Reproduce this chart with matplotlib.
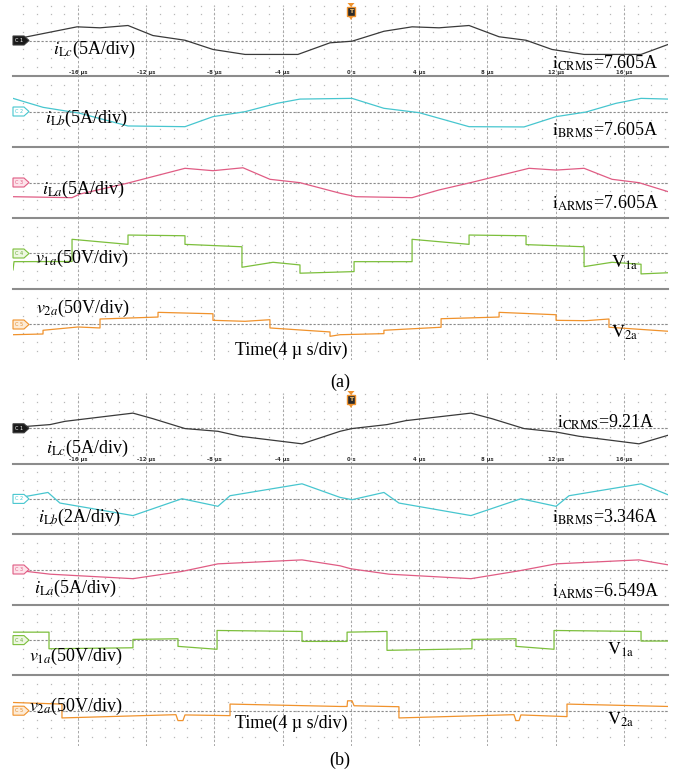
import matplotlib
matplotlib.use("Agg")
import numpy as np
import matplotlib.pyplot as plt
from matplotlib.patches import Polygon, Rectangle

plt.rcParams['font.family'] = ['Liberation Serif', 'DejaVu Serif']
plt.rcParams['mathtext.fontset'] = 'stix'

W, H = 679, 774
fig = plt.figure(figsize=(W / 100, H / 100), dpi=100)

# time window of the scope screen (us) and its labels
T_MIN, T_MAX = -19.81, 18.58
time_ticks = [-16, -12, -8, -4, 0, 4, 8, 12, 16]
time_labels = ['-16 µs', '-12 µs', '-8 µs', '-4 µs', '0 s', '4 µs', '8 µs', '12 µs', '16 µs']

# ---- (a) traces: time in us, value in screen divisions from channel offset ----
a_ilc_t = [-19.81, -18.99, -16.06, -14.71, -13.07, -11.61, -9.73, -8.09, -6.21, -3.11, -1.23,
           0.06, 1.93, 3.58, 5.16, 6.92, 8.68, 10.26, 11.78, 13.66, 17.0, 18.58]
a_ilc_v = [0.0, 0.42, 1.54, 1.43, 1.69, 0.56, 0.03, -1.01, -1.57, -1.57, -0.26,
           -0.08, 1.04, 1.54, 1.43, 1.69, 0.42, 0.03, -1.01, -1.57, -1.57, -0.45]

a_ilb_t = [-19.81, -18.05, -15.89, -13.07, -9.73, -8.09, -6.21, -4.34, -2.99, 0.06, 1.93,
           3.99, 6.92, 10.14, 12.02, 13.77, 15.53, 17.0, 18.58]
a_ilb_v = [1.48, 0.47, -0.2, -1.63, -1.71, -0.58, -0.02, 0.92, 1.40, 1.48, 0.36,
           -0.13, -1.71, -1.74, -0.58, -0.06, 0.92, 1.48, 1.40]

a_ila_t = [-19.81, -16.35, -15.89, -13.13, -9.73, -8.09, -6.33, -4.75, -2.99, -0.64, 0.29,
           3.58, 5.16, 7.09, 10.43, 12.02, 13.66, 15.30, 16.88, 18.58]
a_ila_v = [-1.6, -1.71, -1.3, -0.09, 1.6, 1.33, 1.66, 0.36, -0.02, -1.21, -1.6,
           -1.71, -0.84, 0.02, 1.6, 1.40, 1.6, 0.36, -0.02, -1.03]

a_v1a_t = [-19.81, -19.75, -16.35, -16.35, -13.07, -13.07, -9.73, -9.73, -6.39, -6.39, -4.57,
           -2.99, -2.99, 0.18, 0.18, 3.58, 3.58, 6.92, 6.92, 10.26, 10.26, 13.66, 13.66,
           15.30, 17.0, 17.0, 18.58]
a_v1a_v = [-1.85, -0.92, -0.9, 1.6, 1.03, 2.08, 2.0, 1.03, 0.76, -1.55, -0.99,
           -1.29, -2.22, -2.04, -0.92, -0.92, 1.6, 1.03, 2.08, 2.0, 1.0, 0.76, -1.48,
           -0.99, -1.21, -2.3, -2.17]

a_v2a_t = [-19.81, -18.05, -18.05, -16.0, -14.71, -14.71, -11.31, -11.31, -8.09, -8.09, -6.21,
           -4.75, -4.75, -1.23, -1.23, -0.64, 1.93, 1.93, 5.28, 5.28, 8.68, 8.68, 12.02,
           12.02, 13.77, 15.12, 15.12, 18.58]
a_v2a_v = [-1.15, -1.07, -0.65, -0.28, -0.39, 0.62, 0.84, 1.37, 1.21, 0.47, 0.36,
           0.54, -0.39, -0.84, -1.33, -1.15, -1.03, -0.65, -0.31, 0.65, 0.84, 1.37, 1.1,
           0.47, 0.43, 0.62, -0.31, -0.76]

# ---- (b) traces ----
b_ilc_t = [-19.81, -18.99, -17.64, -16.76, -12.78, -11.61, -9.73, -7.80, -6.51, -2.87, -0.64,
           0.06, 2.11, 3.22, 7.03, 8.26, 10.14, 12.02, 13.36, 16.88, 18.58]
b_ilc_v = [0.0, 0.22, 0.42, 0.79, 1.72, 1.09, -0.03, -0.34, -0.9, -1.76, -0.34,
           -0.03, 0.42, 0.87, 1.72, 1.09, -0.03, -0.42, -0.9, -1.76, -0.79]

b_ilb_t = [-19.81, -17.76, -17.06, -12.78, -9.91, -7.80, -7.09, -2.87, -0.64, 0.06, 1.93,
           2.81, 7.03, 9.96, 12.02, 12.78, 17.0, 18.58]
b_ilb_v = [0.02, 0.73, -0.47, -1.89, 0.02, -0.84, 0.36, 1.71, 0.17, -0.09, 0.73,
           -0.47, -1.89, 0.02, -0.84, 0.36, 1.71, 0.47]

b_ila_t = [-19.81, -17.64, -12.78, -9.91, -7.80, -2.87, -0.64, 0.0, 2.23, 7.03, 9.85,
           12.02, 16.88, 18.58]
b_ila_v = [-0.03, -0.53, -1.04, -0.22, 0.64, 1.09, 0.42, 0.08, -0.53, -1.04, -0.15,
           0.64, 1.09, 0.53]

b_v1a_t = [-19.81, -17.70, -17.70, -12.78, -12.78, -10.14, -10.14, -7.85, -7.85, -2.87, -2.87,
           -0.23, -0.23, 2.11, 2.11, 7.09, 7.09, 9.67, 9.67, 11.9, 11.9, 17.0, 17.0, 18.58]
b_v1a_v = [0.9, 0.9, -0.98, -0.87, 0.08, 0.15, -0.71, -1.04, 1.09, 0.98, -0.15,
           -0.15, 0.9, 0.98, -1.16, -0.98, 0.08, 0.15, -0.71, -1.04, 1.09, 0.98, -0.11, -0.11]

b_v2a_t = [-19.81, -16.94, -16.94, -10.26, -10.14, -9.85, -9.73, -7.09, -7.09, -0.64, -0.23,
           -0.2, 0.06, 0.18, 2.81, 2.81, 9.55, 9.67, 9.85, 9.96, 12.66, 12.66, 18.58]
b_v2a_v = [0.93, 0.75, -0.82, -0.45, -1.12, -1.12, -0.48, -0.56, 0.75, 0.48, 0.48,
           1.12, 1.12, 0.56, 0.45, -0.82, -0.45, -1.12, -1.12, -0.48, -0.67, 0.75, 0.48]

# channel styles: tag label, trace colour, tag face, tag text colour
channels = [('C1', '#3a3a3a', '#1a1a1a', 'white'),
            ('C2', '#47c6cf', '#ffffff', '#47c6cf'),
            ('C3', '#e05c84', '#fde3ea', '#e05c84'),
            ('C4', '#7cbf3c', '#eef7e2', '#6aa834'),
            ('C5', '#f0922c', '#fdebd6', '#e08a2a')]

panels = [
    dict(top=5, h=71.0,
         traces=[(a_ilc_t, a_ilc_v), (a_ilb_t, a_ilb_v), (a_ila_t, a_ila_v),
                 (a_v1a_t, a_v1a_v), (a_v2a_t, a_v2a_v)]),
    dict(top=393, h=70.6,
         traces=[(b_ilc_t, b_ilc_v), (b_ilb_t, b_ilb_v), (b_ila_t, b_ila_v),
                 (b_v1a_t, b_v1a_v), (b_v2a_t, b_v2a_v)]),
]

X0, X1 = 13, 668
minor_t = np.arange(-24, 24) * 0.8
minor_t = minor_t[(minor_t > T_MIN) & (minor_t < T_MAX)]
minor_y = np.arange(-3, 4)
GT, GY = np.meshgrid(minor_t, minor_y)


def fx(x):
    return x / W


def fy(y):
    return 1 - y / H


for p in panels:
    for i, (ts, vs) in enumerate(p['traces']):
        top = p['top'] + i * p['h']
        ax = fig.add_axes([fx(X0), fy(top + p['h']), (X1 - X0) / W, p['h'] / H])
        ax.set_xlim(T_MIN, T_MAX)
        ax.set_ylim(-4, 4)
        ax.axis('off')
        # dotted screen grid
        ax.plot(GT.ravel(), GY.ravel(), ls='none', marker='s', ms=0.9, mew=0,
                color='#b8b8b8')
        ax.vlines(time_ticks, -4, 4, colors='#a8a8a8', linestyles=(0, (2.5, 2)), lw=0.7)
        if i == 0:
            ax.plot(minor_t, np.full_like(minor_t, 3.9), ls='none', marker='s', ms=0.9,
                    mew=0, color='#b8b8b8')
        else:
            ax.axhline(4, color='#8c8c8c', lw=1.5, clip_on=False)
        # channel offset line
        ax.axhline(0, color='#8a8a8a', ls=(0, (2, 1.6)), lw=0.8)
        name, col, face, tcol = channels[i]
        ax.plot(ts, vs, color=col, lw=0.9, zorder=5)

        # channel tag at the left edge
        yc = top + p['h'] / 2
        pts = [(13, yc - 4.5), (24, yc - 4.5), (29, yc), (24, yc + 4.5), (13, yc + 4.5)]
        fig.patches.append(Polygon([(fx(a), fy(b)) for a, b in pts], closed=True,
                                   transform=fig.transFigure, facecolor=face,
                                   edgecolor=col, lw=0.8, zorder=10))
        fig.text(fx(19.5), fy(yc), name[0] + ' ' + name[1], fontsize=3.6, color=tcol,
                 ha='center', va='center', family='DejaVu Sans', zorder=11)

        if i == 0:
            for tk, lab in zip(time_ticks, time_labels):
                ax.text(tk, -3.55, lab, fontsize=3.8, fontweight='bold', color='#333333',
                        ha='center', va='center', family='DejaVu Sans')

    # trigger marker above 0 s
    tx = 351 + 0.0
    ty = p['top'] - 2
    fig.patches.append(Polygon([(fx(tx - 3.5), fy(ty)), (fx(tx + 3.5), fy(ty)),
                                (fx(tx), fy(ty + 4))], closed=True,
                               transform=fig.transFigure, facecolor='#f0922c',
                               edgecolor='none', zorder=12))
    fig.patches.append(Rectangle((fx(tx - 4), fy(ty + 13)), 8 / W, 9 / H,
                                 transform=fig.transFigure, facecolor='#2a2a2a',
                                 edgecolor='#f0922c', lw=1.0, zorder=12))
    fig.text(fx(tx), fy(ty + 8.5), 'T', fontsize=4.5, fontweight='bold', color='#f6c070',
             ha='center', va='center', family='DejaVu Sans', zorder=13)
    fig.patches.append(Polygon([(fx(tx - 2.5), fy(ty + 13)), (fx(tx + 2.5), fy(ty + 13)),
                                (fx(tx), fy(ty + 17))], closed=True,
                               transform=fig.transFigure, facecolor='#f0922c',
                               edgecolor='none', zorder=12))

# ---- annotations ----
FS = 13


def label(x, y, s):
    fig.text(fx(x), fy(y), s, fontsize=FS, ha='left', va='center', zorder=20)


label(53, 49, r'$i_{\mathrm{L}c}$(5A/div)')
label(45, 118, r'$i_{\mathrm{L}b}$(5A/div)')
label(42, 189, r'$i_{\mathrm{L}a}$(5A/div)')
label(35, 258, r'$v_{1a}$(50V/div)')
label(36, 308, r'$v_{2a}$(50V/div)')
label(235, 350, 'Time(4 µ s/div)')
label(552, 63, r'$\mathrm{i}_{\mathrm{CRMS}}$=7.605A')
label(552, 130, r'$\mathrm{i}_{\mathrm{BRMS}}$=7.605A')
label(552, 203, r'$\mathrm{i}_{\mathrm{ARMS}}$=7.605A')
label(611, 263, r'$\mathrm{V}_{\mathrm{1a}}$')
label(611, 333, r'$\mathrm{V}_{\mathrm{2a}}$')
fig.text(fx(340), fy(382), '(a)', fontsize=FS, ha='center', va='center')

label(46, 448, r'$i_{\mathrm{L}c}$(5A/div)')
label(38, 517, r'$i_{\mathrm{L}b}$(2A/div)')
label(34, 588, r'$i_{\mathrm{L}a}$(5A/div)')
label(29, 656, r'$v_{1a}$(50V/div)')
label(29, 706, r'$v_{2a}$(50V/div)')
label(235, 723, 'Time(4 µ s/div)')
label(557, 422, r'$\mathrm{i}_{\mathrm{CRMS}}$=9.21A')
label(552, 517, r'$\mathrm{i}_{\mathrm{BRMS}}$=3.346A')
label(552, 591, r'$\mathrm{i}_{\mathrm{ARMS}}$=6.549A')
label(607, 650, r'$\mathrm{V}_{\mathrm{1a}}$')
label(607, 720, r'$\mathrm{V}_{\mathrm{2a}}$')
fig.text(fx(340), fy(760), '(b)', fontsize=FS, ha='center', va='center')

fig.savefig('out.png', dpi=100, facecolor='white')
